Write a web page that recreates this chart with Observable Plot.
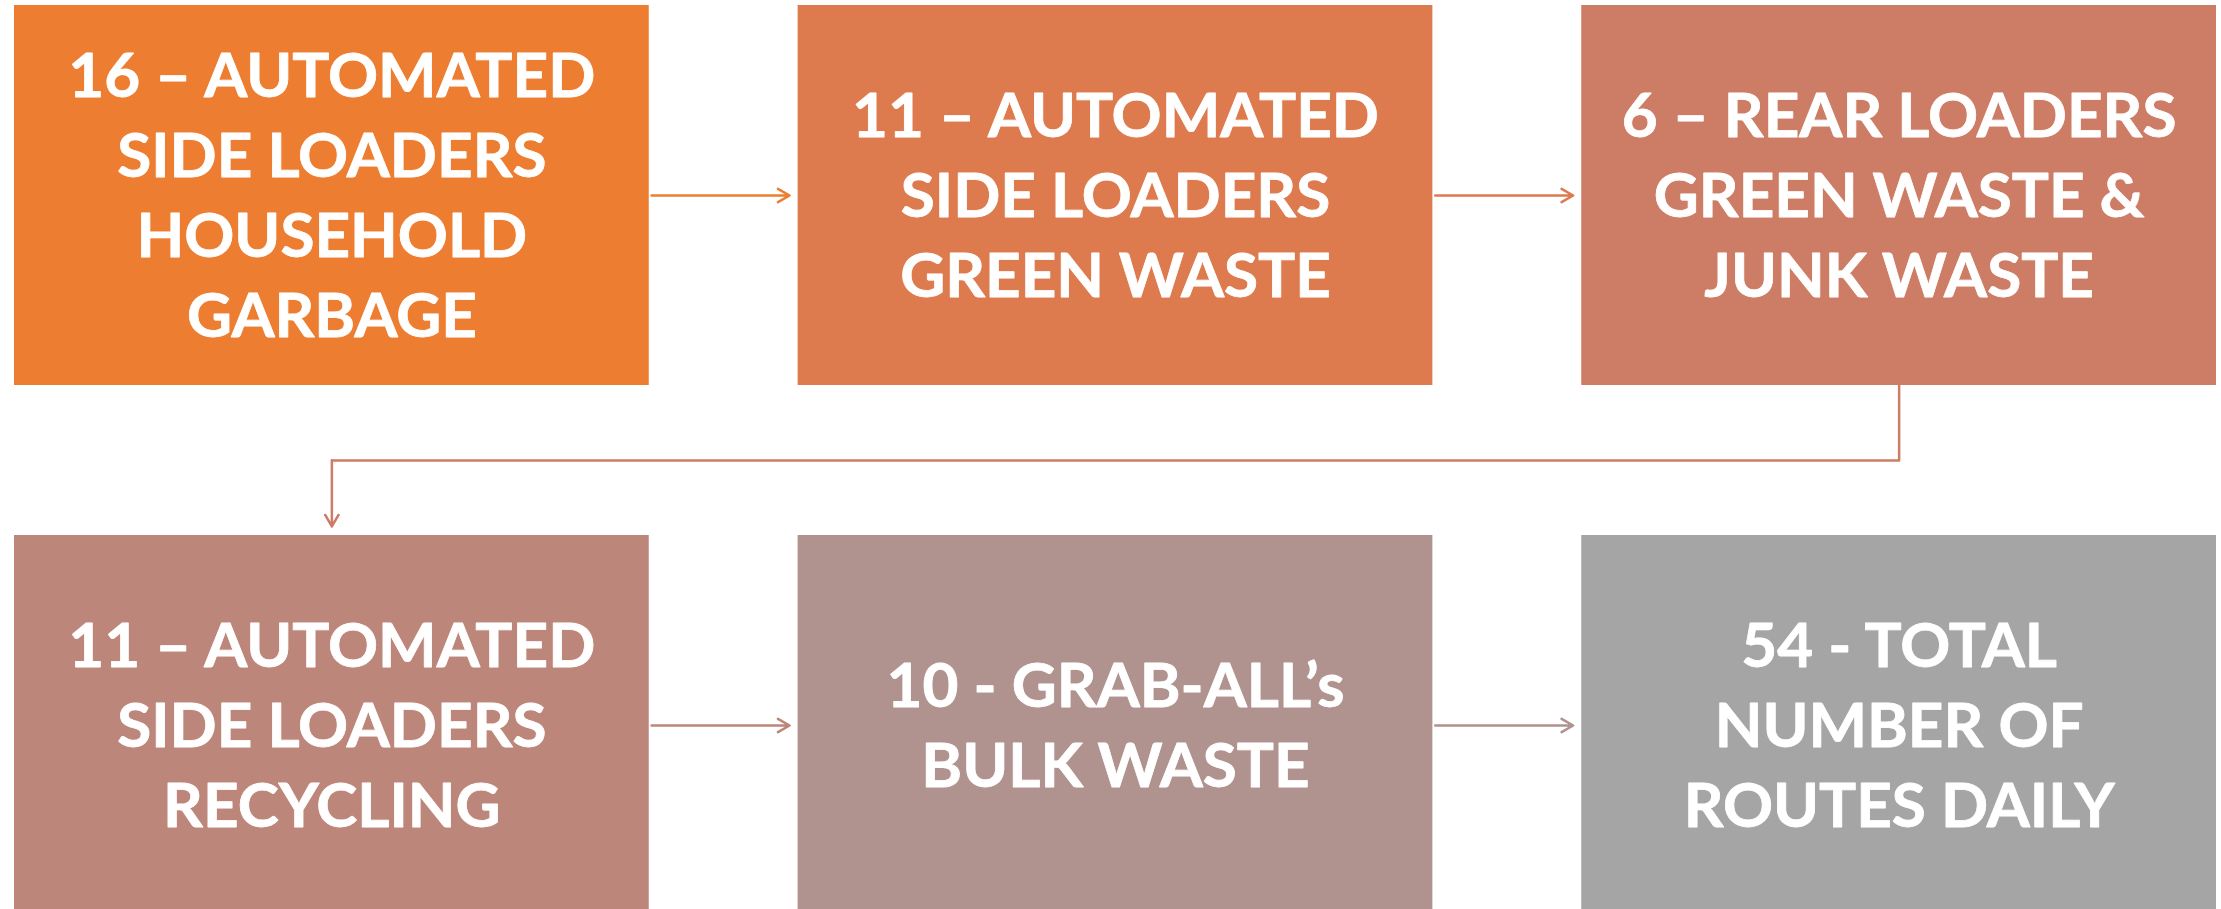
<!DOCTYPE html>
<html>
<head>
<meta charset="utf-8">
<script src="https://cdn.jsdelivr.net/npm/d3@7"></script>
<script src="https://cdn.jsdelivr.net/npm/@observablehq/plot@0.6"></script>
<style>
  html, body { margin: 0; padding: 0; background: #ffffff; }
  svg { display: block; }
</style>
</head>
<body>
<div id="chart"></div>
<script>
// ---- data ----
const labels = [
  "16 – AUTOMATED\nSIDE LOADERS\nHOUSEHOLD\nGARBAGE",
  "11 – AUTOMATED\nSIDE LOADERS\nGREEN WASTE",
  "6 – REAR LOADERS\nGREEN WASTE &\nJUNK WASTE",
  "11 – AUTOMATED\nSIDE LOADERS\nRECYCLING",
  "10 - GRAB-ALL’s\nBULK WASTE",
  "54 - TOTAL\nNUMBER OF\nROUTES DAILY"
];
const cols = [0, 1, 2, 0, 1, 2];
const rows = [0, 0, 0, 1, 1, 1];
const fills = ["#ED7D31", "#DD7B4E", "#CD7C65", "#BD867A", "#B0928F", "#A5A5A5"];
// flow links: source index -> target index
const linkFrom = [0, 1, 2, 3, 4];
const linkTo   = [1, 2, 3, 4, 5];
const linkColors = ["#ED7D31", "#DD7B4E", "#CD7C65", "#BD867A", "#B0928F"];

// ---- layout (grid units) ----
const gapX = 0.19, gapY = 0.283;
const bw = 1 - gapX, bh = 1 - gapY;
const boxes = labels.map((label, i) => ({
  label, fill: fills[i],
  x1: cols[i], x2: cols[i] + bw,
  y1: rows[i], y2: rows[i] + bh,
  cx: cols[i] + bw / 2, cy: rows[i] + bh / 2
}));

const straight = [];
const elbow = [];
linkFrom.forEach((s, k) => {
  const a = boxes[s], b = boxes[linkTo[k]];
  if (rows[s] === rows[linkTo[k]]) {
    straight.push({x1: a.x2 + 0.003, y1: a.cy, x2: b.x1 - 0.011, y2: b.cy, c: linkColors[k]});
  } else {
    const midY = (a.y2 + b.y1) / 2;
    elbow.push({pts: [[a.cx, a.y2], [a.cx, midY], [b.cx, midY]], head: {x1: b.cx, y1: midY, x2: b.cx, y2: b.y1 - 0.017}, c: linkColors[k]});
  }
});

const plot = Plot.plot({
  width: 2221,
  height: 909,
  margin: 0,
  x: {type: "linear", domain: [0, 3 - gapX], range: [14, 2216], axis: null},
  y: {type: "linear", domain: [0, 2 - gapY], range: [5, 915], axis: null},
  style: {background: "#ffffff"},
  marks: [
    Plot.rect(boxes, {x1: "x1", x2: "x2", y1: "y1", y2: "y2", fill: "fill"}),
    Plot.text(boxes, {
      x: "cx", y: "cy", text: "label", fill: "#ffffff",
      fontFamily: "Lato", fontWeight: "bold", fontSize: 62, dy: -4,
      lineHeight: 1.29, lineAnchor: "middle", textAnchor: "middle",
      stroke: "#ffffff", strokeWidth: 0.8
    }),
    Plot.arrow(straight, {x1: "x1", y1: "y1", x2: "x2", y2: "y2", stroke: "c", strokeWidth: 2.5, headLength: 8, headAngle: 60}),
    ...elbow.map(e => Plot.line(e.pts, {x: d => d[0], y: d => d[1], stroke: e.c, strokeWidth: 2.5})),
    ...elbow.map(e => Plot.arrow([e.head], {x1: "x1", y1: "y1", x2: "x2", y2: "y2", stroke: e.c, strokeWidth: 2.5, headLength: 8, headAngle: 60}))
  ]
});
document.getElementById("chart").appendChild(plot);
</script>
</body>
</html>
